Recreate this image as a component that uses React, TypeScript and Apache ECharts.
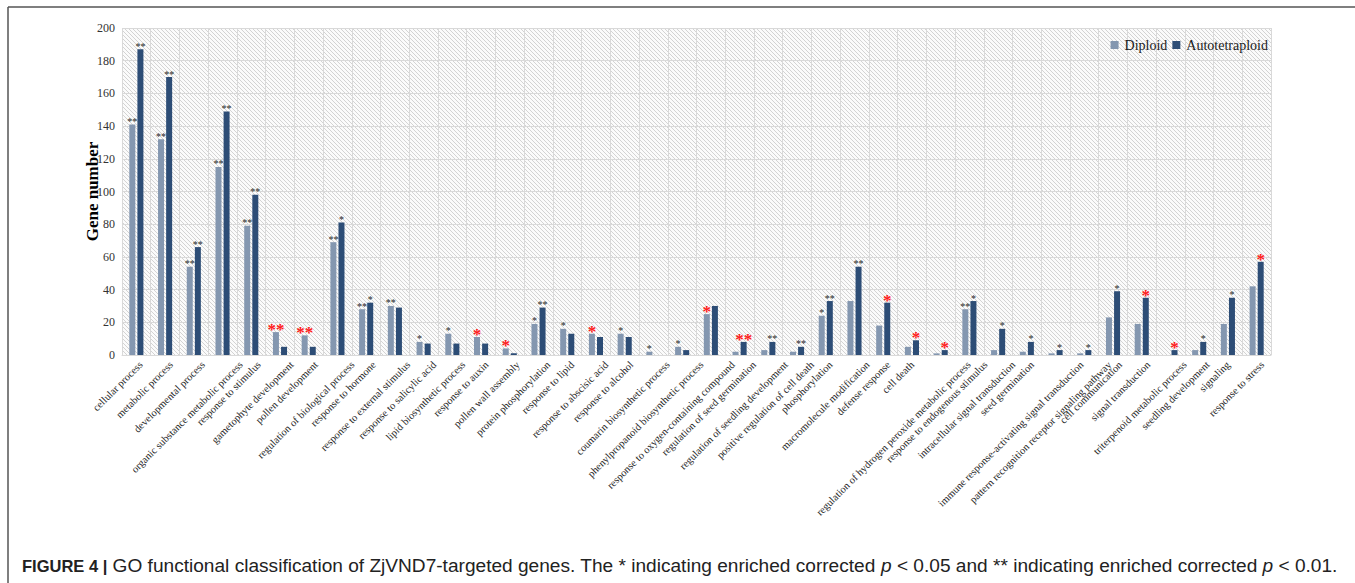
import React, { useEffect, useRef } from "react";
import * as echarts from "echarts";

const categories = [
  "cellular process",
  "metabolic process",
  "developmental process",
  "organic substance metabolic process",
  "response to stimulus",
  "gametophyte development",
  "pollen development",
  "regulation of biological process",
  "response to hormone",
  "response to external stimulus",
  "response to salicylic acid",
  "lipid biosynthetic process",
  "response to auxin",
  "pollen wall assembly",
  "protein phosphorylation",
  "response to lipid",
  "response to abscisic acid",
  "response to alcohol",
  "coumarin biosynthetic process",
  "phenylpropanoid biosynthetic process",
  "response to oxygen-containing compound",
  "regulation of seed germination",
  "regulation of seedling development",
  "positive regulation of cell death",
  "phosphorylation",
  "macromolecule modification",
  "defense response",
  "cell death",
  "regulation of hydrogen peroxide metabolic process",
  "response to endogenous stimulus",
  "intracellular signal transduction",
  "seed germination",
  "immune response-activating signal transduction",
  "pattern recognition receptor signaling pathway",
  "cell communication",
  "signal transduction",
  "triterpenoid metabolic process",
  "seedling development",
  "signaling",
  "response to stress",
];

const diploid = [
  141, 132, 54, 115, 79, 14, 12, 69, 28, 30,
  8, 13, 11, 4, 19, 16, 13, 13, 2, 5,
  25, 2, 3, 2, 24, 33, 18, 5, 1, 28,
  3, 2, 1, 1, 23, 19, 0, 3, 19, 42,
];

const autotetraploid = [
  187, 170, 66, 149, 98, 5, 5, 81, 32, 29,
  7, 7, 7, 1, 29, 13, 11, 11, 0, 3,
  30, 8, 8, 5, 33, 54, 32, 9, 3, 33,
  16, 8, 3, 3, 39, 35, 3, 8, 35, 57,
];

// significance marks; "R" prefix = red mark
const diploidSig = [
  "**", "**", "**", "**", "**", "R**", "R**", "**", "**", "**",
  "*", "*", "R*", "R*", "*", "*", "R*", "*", "*", "*",
  "R*", "", "", "", "*", "", "", "", "", "**",
  "", "", "", "", "", "", "", "", "", "",
];

const autoSig = [
  "**", "**", "**", "**", "**", "", "", "*", "*", "",
  "", "", "", "", "**", "", "", "", "", "",
  "", "R**", "**", "**", "**", "**", "R*", "R*", "R*", "*",
  "*", "*", "*", "*", "*", "R*", "R*", "*", "*", "R*",
];

const yTicks = { min: 0, max: 200, interval: 20 };

const SERIF = "'Liberation Serif', 'Times New Roman', 'DejaVu Serif', serif";
const SANS = "'Liberation Sans', Arial, sans-serif";
const LABEL_SIZE = 10.5;

function buildData(values: number[], sig: string[]) {
  return values.map((v, i) => {
    const s = sig[i];
    if (!s) return { value: v };
    const red = s.startsWith("R");
    const text = red ? s.slice(1) : s;
    return {
      value: v,
      label: {
        show: true,
        position: "top",
        formatter: text,
        color: red ? "#ff1a1a" : "#262626",
        fontSize: red ? 17 : 10,
        fontWeight: red ? "bold" : "normal",
        fontFamily: SERIF,
        distance: red ? -6 : -2,
      },
    };
  });
}

// Excel-like placement: longer rotated labels drift to the right of their tick
// (shift along the text via right padding, across it via a blank first line)
function buildCategoryItems(names: string[]) {
  const c = document.createElement("canvas");
  const ctx = c.getContext("2d")!;
  ctx.font = `${LABEL_SIZE}px ${SERIF}`;
  return names.map((name) => {
    const w = ctx.measureText(name).width;
    const shift = Math.max(0, 0.16 * w - 6);
    const along = shift * Math.SQRT1_2;
    return {
      value: name,
      textStyle: {
        padding: [0, -along, 0, 0],
        lineHeight: Math.max(2 * along, 0.5),
      },
    };
  });
}

function makeHatch(): HTMLCanvasElement {
  const c = document.createElement("canvas");
  c.width = 4;
  c.height = 4;
  const ctx = c.getContext("2d")!;
  ctx.fillStyle = "#fbfbfb";
  ctx.fillRect(0, 0, 4, 4);
  ctx.fillStyle = "#d3d3d3";
  for (let i = 0; i < 4; i++) ctx.fillRect(i, i, 1, 1);
  return c;
}

export default function App() {
  const ref = useRef<HTMLDivElement>(null);

  useEffect(() => {
    document.body.style.margin = "0";
    if (!ref.current) return;
    const chart = echarts.init(ref.current, null, { renderer: "svg" });
    const hatch = makeHatch();
    chart.setOption({
      animation: false,
      backgroundColor: "#ffffff",
      grid: {
        left: 122,
        top: 28,
        width: 1149,
        height: 327,
        show: true,
        borderWidth: 0,
        backgroundColor: { image: hatch, repeat: "repeat" } as any,
      },
      legend: {
        data: ["Diploid", "Autotetraploid"],
        right: 82,
        top: 33,
        itemWidth: 8,
        itemHeight: 8,
        itemGap: 5,
        icon: "rect",
        textStyle: { fontFamily: SERIF, fontSize: 14, color: "#1a1a1a", padding: [0, 0, 0, 1] },
      },
      xAxis: {
        type: "category",
        data: buildCategoryItems(categories),
        axisLine: { lineStyle: { color: "#d9d9d9", width: 1 } },
        axisTick: { show: false },
        splitLine: { show: true, interval: 0, lineStyle: { color: "#d9d9d9", width: 1 } },
        axisLabel: {
          interval: 0,
          rotate: 45,
          margin: 8,
          fontFamily: SERIF,
          fontSize: LABEL_SIZE,
          color: "#262626",
          formatter: (v: string) => "\n" + v,
        },
      },
      yAxis: {
        type: "value",
        min: yTicks.min,
        max: yTicks.max,
        interval: yTicks.interval,
        name: "Gene number",
        nameLocation: "middle",
        nameGap: 21,
        nameMoveOverlap: false,
        nameTextStyle: { fontFamily: SERIF, fontSize: 17, fontWeight: "bold", color: "#000" },
        axisLine: { show: false },
        axisTick: { show: false },
        splitLine: { lineStyle: { color: "#d9d9d9", width: 1 } },
        axisLabel: { fontFamily: SERIF, fontSize: 12, color: "#333", margin: 7 },
      },
      series: [
        {
          name: "Diploid",
          type: "bar",
          data: buildData(diploid, diploidSig),
          barWidth: 6,
          barGap: "35%",
          itemStyle: { color: "#8497b0" },
        },
        {
          name: "Autotetraploid",
          type: "bar",
          data: buildData(autotetraploid, autoSig),
          barWidth: 6,
          barGap: "35%",
          itemStyle: { color: "#2d4d76" },
        },
      ],
      graphic: [
        {
          type: "line",
          shape: { x1: 8, y1: 7, x2: 1355, y2: 7 },
          style: { stroke: "#555", lineWidth: 1.5 },
        },
        {
          type: "line",
          shape: { x1: 8, y1: 7, x2: 8, y2: 583 },
          style: { stroke: "#555", lineWidth: 1.5 },
        },
        {
          type: "text",
          left: 22,
          top: 556,
          style: {
            text: "{b|FIGURE 4 |} GO functional classification of ZjVND7-targeted genes. The * indicating enriched corrected {i|p} < 0.05 and ** indicating enriched corrected {i|p} < 0.01.",
            fontFamily: SANS,
            fontSize: 19.1,
            fill: "#222",
            rich: {
              b: { fontWeight: "bold", fontFamily: SANS, fontSize: 16.5, fill: "#222" },
              i: { fontStyle: "italic", fontFamily: SANS, fontSize: 19.1, fill: "#222" },
            },
          },
        },
      ],
    });
    return () => chart.dispose();
  }, []);

  return <div ref={ref} style={{ width: 1355, height: 583 }} />;
}
